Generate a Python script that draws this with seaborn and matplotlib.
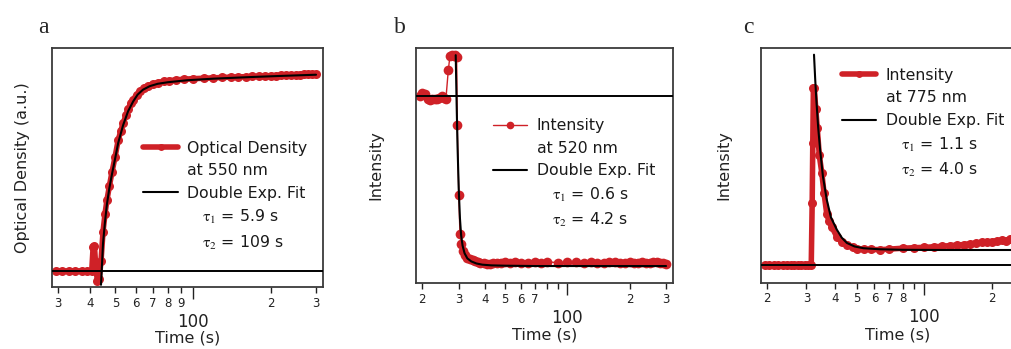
import matplotlib
matplotlib.use("Agg")
import matplotlib.pyplot as plt
from matplotlib.lines import Line2D
import seaborn as sns

# -------------------------------
# Data
# -------------------------------

# a: optical density at 550 nm
time_a = [29.5, 31, 33, 35, 37, 39, 40.5, 41.0, 41.5, 42.0, 42.6, 43.3, 44.0, 44.8,
          45.6, 46.4, 47.4, 48.5, 49.9, 51.3, 52.5, 53.6, 55.0, 56.0, 57.3, 58.6,
          60.5, 62.5, 64.5, 67, 70, 73, 77, 81, 86, 92, 100, 110, 120, 130, 140,
          150, 160, 170, 180, 190, 200, 210, 220, 230, 240, 250, 260, 270, 280,
          290, 300]
od_a = [0.0, 0.0, 0.0, 0.0, 0.0, 0.0, 0.0, 0.12, 0.125, 0.02, -0.05, -0.04, 0.05, 0.2,
        0.29, 0.36, 0.43, 0.50, 0.58, 0.665, 0.71, 0.75, 0.79, 0.82, 0.85, 0.87,
        0.895, 0.915, 0.93, 0.94, 0.95, 0.956, 0.962, 0.966, 0.97, 0.973, 0.976,
        0.978, 0.98, 0.982, 0.984, 0.985, 0.986, 0.987, 0.988, 0.99, 0.991, 0.992,
        0.993, 0.994, 0.995, 0.996, 0.997, 0.998, 0.999, 1.0, 1.0]
fit_time_a = [44.0, 44.8, 45.6, 46.4, 47.4, 48.5, 49.9, 51.3, 53.6, 56.0, 58.6, 61,
              64, 68, 73, 80, 95, 120, 166, 220, 300]
fit_a = [-0.07, 0.14, 0.25, 0.34, 0.42, 0.49, 0.57, 0.65, 0.74, 0.81, 0.86, 0.895,
         0.92, 0.938, 0.95, 0.958, 0.968, 0.976, 0.984, 0.99, 0.996]
base_a = 0.0

# b: intensity at 520 nm
time_b = [19.4, 20, 20.6, 21.2, 21.8, 22.4, 23, 23.6, 24.2, 24.8, 25.4, 26.0, 26.7,
          27.2, 27.7, 28.3, 28.9, 29.3, 29.5, 30.0, 30.4, 30.9, 31.5, 32.2, 33.0,
          34, 35, 36, 37, 38, 39.5, 41, 42.5, 44, 46, 48, 50, 53, 56, 60, 65, 70,
          75, 80, 90, 100, 110, 120, 130, 140, 150, 160, 170, 180, 190, 200, 210,
          220, 230, 240, 250, 260, 270, 280, 290, 300]
int_b = [1.0, 1.02, 1.01, 0.98, 0.975, 0.98, 0.985, 0.98, 0.99, 1.0, 0.99, 0.98, 1.15,
         1.235, 1.24, 1.235, 1.24, 1.23, 0.83, 0.42, 0.19, 0.13, 0.09, 0.065, 0.05,
         0.04, 0.034, 0.028, 0.022, 0.018, 0.015, 0.012, 0.01, 0.015, 0.02, 0.018,
         0.022, 0.02, 0.025, 0.02, 0.018, 0.022, 0.02, 0.025, 0.02, 0.022, 0.025,
         0.02, 0.022, 0.018, 0.02, 0.025, 0.022, 0.018, 0.02, 0.022, 0.02, 0.018,
         0.022, 0.02, 0.018, 0.022, 0.025, 0.02, 0.015, 0.01]
fit_time_b = [29.0, 29.3, 29.6, 30.0, 30.4, 30.8, 31.3, 32, 33, 34.5, 36.5, 39, 43,
              50, 70, 120, 200, 300]
fit_b = [1.24, 0.95, 0.70, 0.45, 0.28, 0.18, 0.12, 0.075, 0.045, 0.027, 0.015,
         0.008, 0.004, 0.002, 0.0, 0.0, 0.0, 0.0]
base_b = 1.0

# c: intensity at 775 nm
time_c = [19.7, 20.5, 21.5, 22.5, 23.5, 24.5, 25.5, 26.5, 27.5, 28.5, 29.5, 30.5,
          31.5, 31.8, 32.0, 32.2, 32.5, 33.0, 33.5, 34.2, 35.1, 35.9, 36.9, 37.8,
          38.8, 40.9, 43, 45.3, 48, 50, 53.7, 58, 63.6, 70, 80, 90, 100, 110, 120,
          130, 140, 150, 160, 170, 180, 190, 200, 210, 220, 230, 240, 250, 260, 270,
          280, 290, 300, 310]
int_c = [0.0, 0.0, 0.0, 0.0, 0.0, 0.0, 0.0, 0.0, 0.0, 0.0, 0.0, 0.0, 0.0, 0.35,
         0.69, 1.0, 1.0, 0.88, 0.774, 0.62, 0.52, 0.405, 0.29, 0.25, 0.217, 0.16,
         0.13, 0.113, 0.1, 0.093, 0.09, 0.088, 0.087, 0.09, 0.095, 0.098, 0.1,
         0.103, 0.106, 0.11, 0.113, 0.116, 0.12, 0.124, 0.128, 0.13, 0.133, 0.136,
         0.14, 0.138, 0.145, 0.15, 0.147, 0.152, 0.155, 0.158, 0.156, 0.16]
fit_time_c = [32.4, 32.8, 33.2, 33.8, 34.5, 35.5, 36.9, 38.5, 40.9, 43, 45.3, 49,
              53.7, 63.6, 80, 120, 200, 310]
fit_c = [1.19, 1.05, 0.93, 0.78, 0.65, 0.50, 0.37, 0.27, 0.20, 0.155, 0.125, 0.105,
         0.095, 0.089, 0.086, 0.085, 0.085, 0.085]
base_c = 0.0

# x ticks (log axis, Igor style mantissa labels)
minor_a = [30, 40, 50, 60, 70, 80, 90, 200, 300]
minor_labels_a = ["3", "4", "5", "6", "7", "8", "9", "2", "3"]
minor_b = [20, 30, 40, 50, 60, 70, 80, 90, 200, 300]
minor_labels_b = ["2", "3", "4", "5", "6", "7", "", "", "2", "3"]
minor_c = [20, 30, 40, 50, 60, 70, 80, 90, 200]
minor_labels_c = ["2", "3", "4", "5", "6", "7", "8", "", "2"]
major_ticks = [100]
major_labels = ["100"]

# legend text
labels_a = ["Optical Density", "at 550 nm", "Double Exp. Fit",
            r"   $\mathrm{\tau}_1$ = 5.9 s", r"   $\mathrm{\tau}_2$ = 109 s"]
labels_b = ["Intensity", "at 520 nm", "Double Exp. Fit",
            r"   $\mathrm{\tau}_1$ = 0.6 s", r"   $\mathrm{\tau}_2$ = 4.2 s"]
labels_c = ["Intensity", "at 775 nm", "Double Exp. Fit",
            r"   $\mathrm{\tau}_1$ = 1.1 s", r"   $\mathrm{\tau}_2$ = 4.0 s"]

# -------------------------------
# Style
# -------------------------------

RED = "#cf2127"
SPINE = "#3a3a3a"

sns.set_theme(style="white")
plt.rcParams["font.family"] = ["DejaVu Sans"]
plt.rcParams["mathtext.fontset"] = "stix"

fig = plt.figure(figsize=(10.11, 3.49), dpi=100)
ax_a = fig.add_axes([0.0514, 0.1777, 0.2680, 0.6850])
ax_b = fig.add_axes([0.4112, 0.1890, 0.2542, 0.6734])
ax_c = fig.add_axes([0.7524, 0.1900, 0.2713, 0.6725])


def draw_panel(ax, t, y, ft, fy, base, thick):
    lw = 4.0 if thick else 1.0
    ms = 6.5 if thick else 7
    sns.lineplot(x=t, y=y, ax=ax, color=RED, lw=lw, marker="o", markersize=ms,
                 markeredgewidth=0, estimator=None, sort=False, legend=False)
    ax.axhline(base, color="black", lw=1.4, zorder=3)
    sns.lineplot(x=ft, y=fy, ax=ax, color="black", lw=1.5, estimator=None,
                 sort=False, legend=False, zorder=4)
    return lw, (5 if thick else 5.5)


def style_axes(ax, xlim, ylim, minor, minor_labels, ylabel, ylab_x, xlab_y):
    ax.set_xscale("log")
    ax.set_xlim(*xlim)
    ax.set_ylim(*ylim)
    ax.set_yticks([])
    ax.set_xticks(major_ticks, major_labels)
    ax.set_xticks(minor, minor_labels, minor=True)
    ax.tick_params(axis="x", which="minor", direction="out", length=4.5, width=1.0,
                   pad=2.5, labelsize=8.5, color="#222222", labelcolor="#222222",
                   bottom=True)
    ax.tick_params(axis="x", which="major", direction="out", length=8.5, width=1.0,
                   pad=10, labelsize=12, color="#222222", labelcolor="#222222",
                   bottom=True)
    for s in ax.spines.values():
        s.set_visible(True)
        s.set_color(SPINE)
        s.set_linewidth(1.3)
    ax.set_xlabel("Time (s)", fontsize=11.5, color="#222222")
    ax.xaxis.set_label_coords(0.5, xlab_y)
    ax.set_ylabel(ylabel, fontsize=11.5, color="#222222")
    ax.yaxis.set_label_coords(ylab_x, 0.5)
    ax.grid(False)


def add_legend(ax, labels, lw, ms, anchor):
    h_data = Line2D([], [], color=RED, lw=lw, marker="o", markersize=ms,
                    markeredgewidth=0)
    h_fit = Line2D([], [], color="black", lw=1.5)
    blank = Line2D([], [], color="none")
    leg = ax.legend([h_data, blank, h_fit, blank, blank], labels, loc="upper left",
                    bbox_to_anchor=anchor, frameon=False, borderpad=0,
                    borderaxespad=0, handlelength=2.2, handletextpad=0.6,
                    labelspacing=0.48, fontsize=11.3)
    for txt in leg.get_texts():
        txt.set_color("#1a1a1a")


lw, ms = draw_panel(ax_a, time_a, od_a, fit_time_a, fit_a, base_a, True)
style_axes(ax_a, (28.4, 319), (-0.081, 1.132), minor_a, minor_labels_a,
           "Optical Density (a.u.)", -0.081, -0.18)
add_legend(ax_a, labels_a, lw, ms, (0.337, 0.612))

lw, ms = draw_panel(ax_b, time_b, int_b, fit_time_b, fit_b, base_b, False)
style_axes(ax_b, (18.6, 323), (-0.1, 1.282), minor_b, minor_labels_b,
           "Intensity", -0.126, -0.191)
add_legend(ax_b, labels_b, lw, ms, (0.30, 0.702))

lw, ms = draw_panel(ax_c, time_c, int_c, fit_time_c, fit_c, base_c, True)
style_axes(ax_c, (18.8, 309), (-0.1, 1.228), minor_c, minor_labels_c,
           "Intensity", -0.106, -0.193)
add_legend(ax_c, labels_c, lw, ms, (0.295, 0.915))

# panel letters
for x, letter in [(0.0425, "a"), (0.3956, "b"), (0.740, "c")]:
    fig.text(x, 0.905, letter, family="Liberation Serif", fontsize=17,
             ha="center", va="baseline")

fig.savefig("out.png", dpi=100)
